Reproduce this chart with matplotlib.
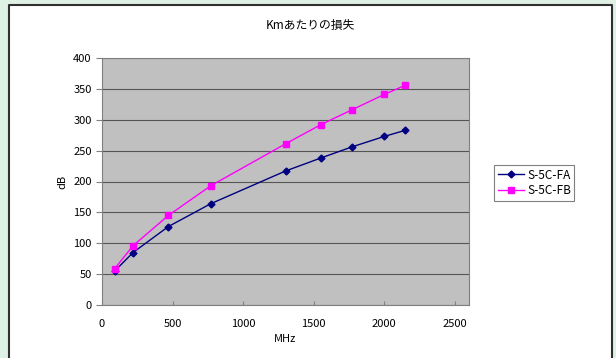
import matplotlib.pyplot as plt
from matplotlib.patches import Rectangle
from matplotlib.lines import Line2D

plt.rcParams['font.family'] = ['Noto Sans CJK JP', 'DejaVu Sans']

freq = [90, 220, 470, 770, 1300, 1550, 1770, 2000, 2150]
loss_fa = [55, 85, 127, 164, 217, 238, 256, 273, 283]
loss_fb = [59, 96, 145, 193, 261, 292, 316, 341, 356]

W, H = 616, 358
fig = plt.figure(figsize=(W / 100, H / 100), dpi=100)
fig.patch.set_facecolor('#dff0e5')

# white chart panel with dark border on left/top/right
fig.add_artist(Rectangle((9 / W, 0), (612 - 9) / W, (H - 5) / H, transform=fig.transFigure,
                         facecolor='white', edgecolor='none', zorder=-2))
fig.add_artist(Line2D([9 / W, 9 / W, 612 / W, 612 / W], [0, (H - 5) / H, (H - 5) / H, 0],
                      transform=fig.transFigure, color='#303030', lw=1.5, zorder=-1))

ax = fig.add_axes([102 / W, (H - 305) / H, (469 - 102) / W, (305 - 58) / H])
ax.set_facecolor('#c0c0c0')

ax.plot(freq, loss_fa, color='#000080', marker='D', markersize=3.5, lw=1, label='S-5C-FA')
ax.plot(freq, loss_fb, color='#ff00ff', marker='s', markersize=4.5, lw=1, label='S-5C-FB')

ax.set_xlim(0, 2600)
ax.set_ylim(0, 400)
ax.set_xticks(range(0, 2501, 500))
ax.set_yticks(range(0, 401, 50))
ax.yaxis.grid(True, color='#555555', lw=0.8)
ax.set_axisbelow(True)
for s in ax.spines.values():
    s.set_color('#808080')
ax.tick_params(labelsize=8, color='#808080', length=3)
ax.tick_params(axis='x', direction='in', pad=10)
ax.tick_params(axis='y', direction='out', length=4)

ax.set_xlabel('MHz', fontsize=8, labelpad=4)
ax.set_ylabel('dB', fontsize=8, labelpad=4)
fig.text(310 / W, 1 - 25 / H, 'Kmあたりの損失', ha='center', va='center', fontsize=8.5)

leg = fig.legend(loc='upper left', bbox_to_anchor=(494 / W, 1 - 165 / H), fontsize=8.5,
                 frameon=True, fancybox=False, edgecolor='#606060', borderpad=0.3,
                 handlelength=2.2, handletextpad=0.3, labelspacing=0.25, borderaxespad=0)
leg.get_frame().set_linewidth(0.8)

fig.savefig('out.png', dpi=100, facecolor=fig.get_facecolor())
